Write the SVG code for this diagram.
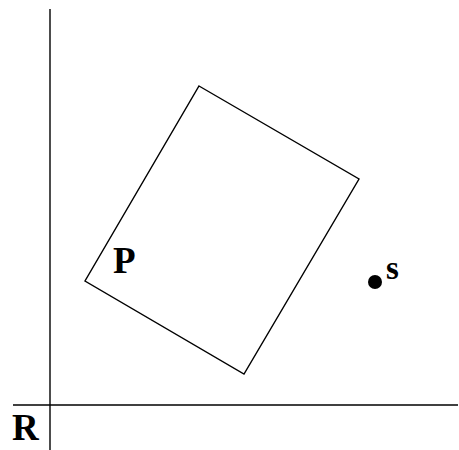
<svg xmlns="http://www.w3.org/2000/svg" width="459" height="450" viewBox="0 0 459 450">
<style>
.ln{stroke:#000;stroke-width:1.4;fill:none}
.lb{font-family:"Liberation Serif","Times New Roman",serif;font-weight:bold;fill:#000}
</style>
<rect width="459" height="450" fill="#fff"/>
<g id="axes">
<line class="ln" x1="50" y1="9" x2="50" y2="450"/>
<line class="ln" x1="13" y1="405" x2="458" y2="405"/>
<text class="lb" x="12" y="440" font-size="37">R</text>
</g>
<g id="P">
<polygon class="ln" points="199,86 359,179 244,374 85,281"/>
<text class="lb" x="113" y="273" font-size="37">P</text>
</g>
<g id="s">
<circle cx="375" cy="282" r="7" fill="#000"/>
<text class="lb" x="386" y="279" font-size="33">s</text>
</g>
</svg>
